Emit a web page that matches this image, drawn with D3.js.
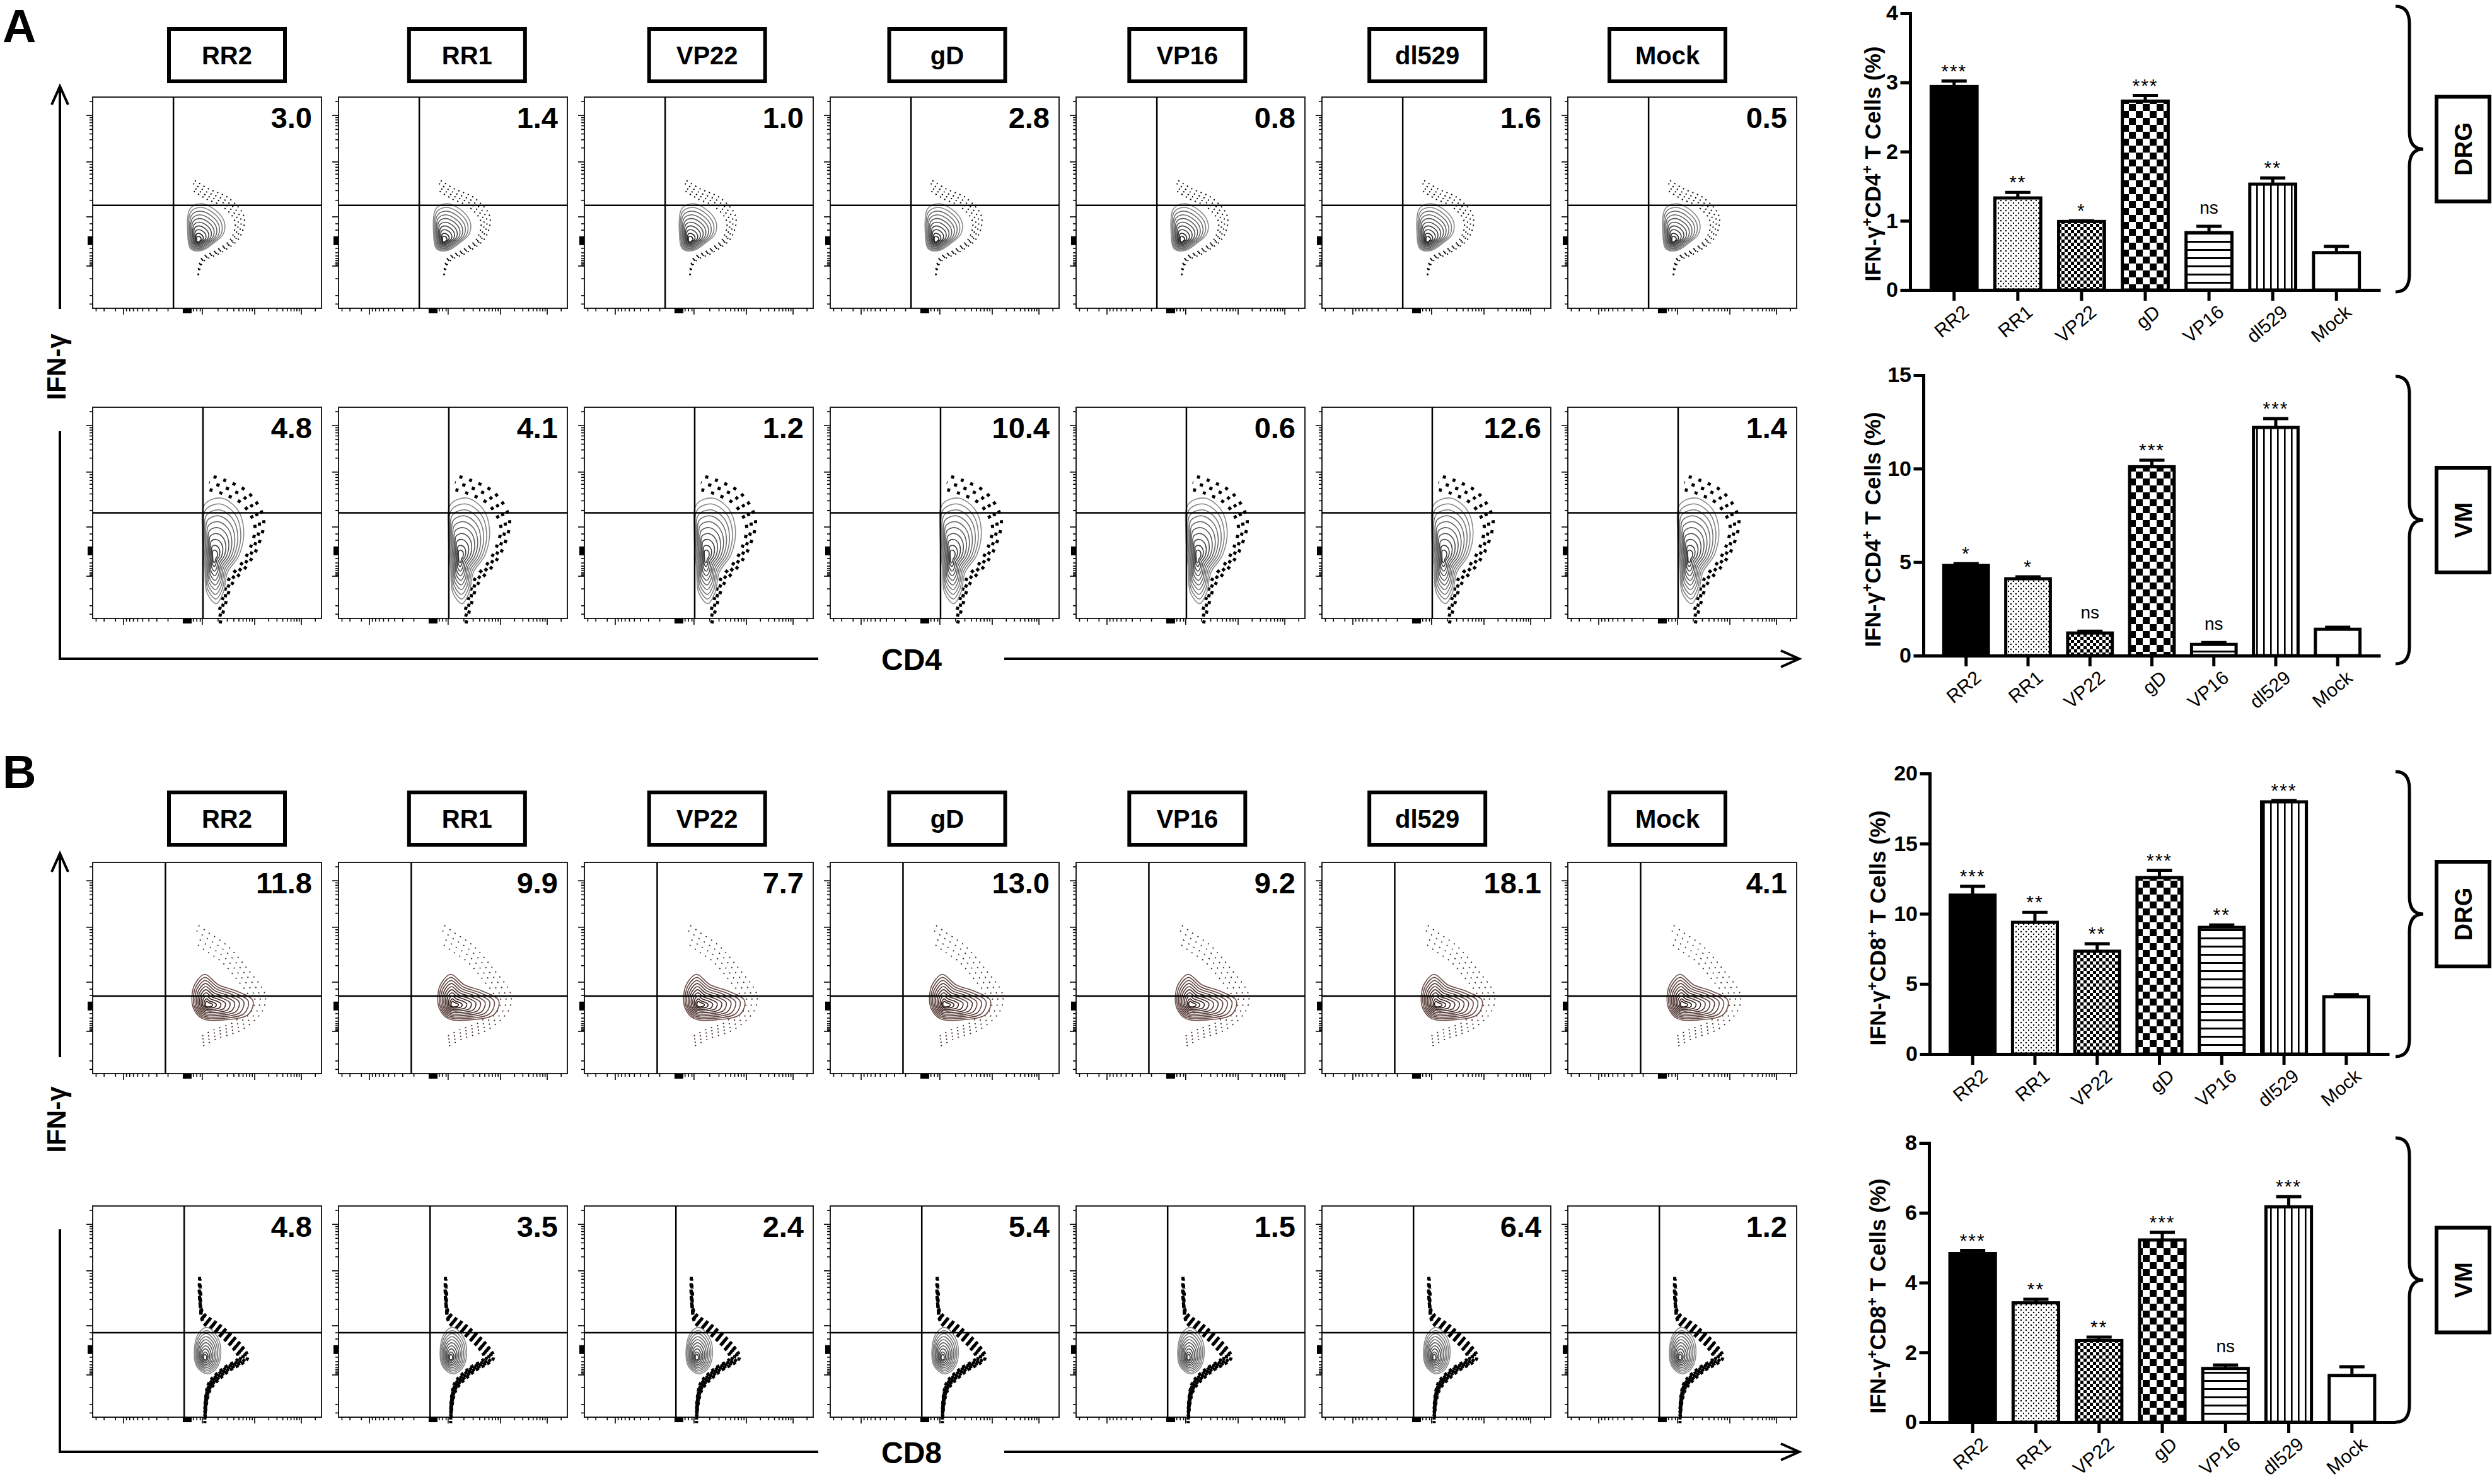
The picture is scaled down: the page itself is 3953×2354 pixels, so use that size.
<!DOCTYPE html>
<meta charset="utf-8">
<style>
	body { margin: 0; background: #fff; }
	svg { display: block; font-family: "Liberation Sans", Arial, sans-serif; }
	.frame { fill: #fff; stroke: #222; stroke-width: 2; }
	.gate { stroke: #000; stroke-width: 2.5; }
	.ftick { stroke: #000; stroke-width: 1.6; }
	.pct { font-size: 47px; font-weight: bold; text-anchor: end; }
	.bigaxis { fill: none; stroke: #000; stroke-width: 4; }
</style>
<svg width="3953" height="2354"></svg>
<script src="https://cdn.jsdelivr.net/npm/d3@7"></script>
<script>

var groups = ["RR2", "RR1", "VP22", "gD", "VP16", "dl529", "Mock"];

// percentages printed in the upper right quadrant of each flow plot
var cd4DrgPct = ["3.0", "1.4", "1.0", "2.8", "0.8", "1.6", "0.5"];
var cd4VmPct  = ["4.8", "4.1", "1.2", "10.4", "0.6", "12.6", "1.4"];
var cd8DrgPct = ["11.8", "9.9", "7.7", "13.0", "9.2", "18.1", "4.1"];
var cd8VmPct  = ["4.8", "3.5", "2.4", "5.4", "1.5", "6.4", "1.2"];

// bar charts: mean, SEM, significance
var cd4DrgMean = [2.94, 1.33, 0.99, 2.73, 0.83, 1.53, 0.54];
var cd4DrgErr  = [0.08, 0.08, 0.01, 0.08, 0.09, 0.09, 0.09];
var cd4DrgSig  = ["***", "**", "*", "***", "ns", "**", ""];
var cd4DrgTicks = [0, 1, 2, 3, 4];

var cd4VmMean = [4.82, 4.11, 1.21, 10.1, 0.6, 12.2, 1.41];
var cd4VmErr  = [0.1, 0.1, 0.1, 0.35, 0.1, 0.47, 0.11];
var cd4VmSig  = ["*", "*", "ns", "***", "ns", "***", ""];
var cd4VmTicks = [0, 5, 10, 15];

var cd8DrgMean = [11.33, 9.39, 7.33, 12.58, 9.03, 17.98, 4.09];
var cd8DrgErr  = [0.62, 0.71, 0.54, 0.52, 0.17, 0.1, 0.15];
var cd8DrgSig  = ["***", "**", "**", "***", "**", "***", ""];
var cd8DrgTicks = [0, 5, 10, 15, 20];

var cd8VmMean = [4.83, 3.42, 2.34, 5.22, 1.54, 6.17, 1.34];
var cd8VmErr  = [0.09, 0.1, 0.1, 0.22, 0.1, 0.29, 0.25];
var cd8VmSig  = ["***", "**", "**", "***", "ns", "***", ""];
var cd8VmTicks = [0, 2, 4, 6, 8];

// flow plot population outlines (fraction of plot)
var cd4DrgOutline = [[0.425,0.53],[0.47,0.505],[0.53,0.53],[0.575,0.59],[0.57,0.65],[0.53,0.69],[0.48,0.725],[0.43,0.72],[0.415,0.64]];
var cd4DrgCore = [0.46, 0.68];
var cd4DrgDots = [[0.44,0.42],[0.50,0.46],[0.58,0.50],[0.64,0.58],[0.62,0.67],[0.55,0.73],[0.48,0.77],[0.46,0.84]];

var cd4VmOutline = [[0.49,0.46],[0.56,0.43],[0.63,0.48],[0.66,0.58],[0.64,0.70],[0.59,0.78],[0.57,0.88],[0.54,0.93],[0.50,0.88],[0.49,0.76],[0.48,0.60]];
var cd4VmCore = [0.53, 0.71];
var cd4VmDots = [[0.51,0.37],[0.57,0.39],[0.66,0.44],[0.72,0.55],[0.70,0.66],[0.66,0.74],[0.60,0.82],[0.57,0.92],[0.55,1.0]];

var cd8DrgOutline = [[0.45,0.57],[0.49,0.53],[0.55,0.58],[0.63,0.61],[0.70,0.655],[0.68,0.72],[0.58,0.745],[0.48,0.74],[0.44,0.69],[0.435,0.62]];
var cd8DrgCore = [0.50, 0.675];
var cd8DrgDots = [[0.45,0.32],[0.50,0.36],[0.58,0.42],[0.66,0.52],[0.73,0.63],[0.72,0.70],[0.64,0.78],[0.54,0.82],[0.47,0.86]];

var cd8VmOutline = [[0.465,0.60],[0.50,0.575],[0.545,0.62],[0.56,0.70],[0.54,0.77],[0.50,0.795],[0.455,0.76],[0.445,0.67]];
var cd8VmCore = [0.49, 0.72];
var cd8VmDots = [[0.47,0.36],[0.48,0.52],[0.55,0.58],[0.63,0.66],[0.66,0.72],[0.58,0.78],[0.51,0.86],[0.49,1.0]];

// flow axis tick marks (fraction of plot)
var flowYMajor = [0.087, 0.307, 0.567, 0.80];
var flowXMajor = [0.135, 0.479, 0.708, 0.912];
var flowYZero = 0.68, flowXZero = 0.413;

var contourLevels = [1, 0.9, 0.8, 0.7, 0.6, 0.5, 0.4, 0.3, 0.2, 0.12];

var svg = d3.select("svg");
var defs = svg.append("defs");

function pattern(id, w, h) {
	var p = defs.append("pattern").attr("id", id)
		.attr("patternUnits", "userSpaceOnUse").attr("width", w).attr("height", h);
	p.append("rect").attr("width", w).attr("height", h).attr("fill", "#fff");
	return p;
}
var p = pattern("dots", 8, 8);
p.append("circle").attr("cx", 2).attr("cy", 2).attr("r", 1.2);
p.append("circle").attr("cx", 6).attr("cy", 6).attr("r", 1.2);
p = pattern("fineCheck", 10, 10);
p.append("rect").attr("width", 5).attr("height", 5);
p.append("rect").attr("x", 5).attr("y", 5).attr("width", 5).attr("height", 5);
p = pattern("bigCheck", 22, 22);
p.append("rect").attr("width", 11).attr("height", 11);
p.append("rect").attr("x", 11).attr("y", 11).attr("width", 11).attr("height", 11);
p = pattern("hLines", 14, 13);
p.append("rect").attr("y", 5).attr("width", 14).attr("height", 3);
p = pattern("vLines", 11, 14);
p.append("rect").attr("x", 4).attr("width", 2.6).attr("height", 14);

var barFills = ["#000", "url(#dots)", "url(#fineCheck)", "url(#bigCheck)", "url(#hLines)", "url(#vLines)", "#fff"];

// ---------- flow plots ----------
var plotW = 363, plotH = 335;
var plotX = d3.scalePoint().domain(groups).range([147, 147 + 6 * 390]);
var boxX = d3.scalePoint().domain(groups).range([360, 2645]);

function log10(k) { return Math.log(k) / Math.LN10; }
var ks = [2, 3, 4, 5, 6, 7, 8, 9];
var flowYMinor = [0.021, 0.60, 0.63, 0.86, 0.94, 0.98]
	.concat(ks.map(function(k) { return 0.307 - 0.22 * log10(k); }))
	.concat(ks.map(function(k) { return 0.567 - 0.26 * log10(k); }))
	.concat(ks.map(function(k) { return 0.68 + 0.12 * log10(k); }));
var flowXMinor = [0.015, 0.05, 0.1, 0.43, 0.44, 0.455, 0.47, 0.973]
	.concat(ks.map(function(k) { return 0.135 + 0.278 * (1 - log10(k)); }))
	.concat(ks.map(function(k) { return 0.479 + 0.229 * log10(k); }))
	.concat(ks.map(function(k) { return 0.708 + 0.204 * log10(k); }));

function scaled(pts, core, s) {
	return pts.map(function(p) { return [core[0] + (p[0] - core[0]) * s, core[1] + (p[1] - core[1]) * s]; });
}

function flowRow(top, pcts, outline, core, dots, gx, gy, st) {
	groups.forEach(function(name, i) {
		var left = plotX(name);
		var sx = d3.scaleLinear().domain([0, 1]).range([left, left + plotW]);
		var sy = d3.scaleLinear().domain([0, 1]).range([top, top + plotH]);
		var g = svg.append("g");

		g.append("rect").attr("class", "frame")
			.attr("x", sx(0)).attr("y", sy(0)).attr("width", plotW).attr("height", plotH);

		// y ticks
		g.selectAll(".ym").data(flowYMajor).enter().append("line").attr("class", "ftick")
			.attr("x1", sx(0) - 10).attr("x2", sx(0)).attr("y1", sy).attr("y2", sy);
		g.selectAll(".yn").data(flowYMinor).enter().append("line").attr("class", "ftick")
			.attr("x1", sx(0) - 5).attr("x2", sx(0)).attr("y1", sy).attr("y2", sy);
		g.append("rect").attr("x", sx(0) - 8).attr("y", sy(flowYZero) - 7).attr("width", 8).attr("height", 14);
		// x ticks
		g.selectAll(".xm").data(flowXMajor).enter().append("line").attr("class", "ftick")
			.attr("y1", sy(1)).attr("y2", sy(1) + 10).attr("x1", sx).attr("x2", sx);
		g.selectAll(".xn").data(flowXMinor).enter().append("line").attr("class", "ftick")
			.attr("y1", sy(1)).attr("y2", sy(1) + 5).attr("x1", sx).attr("x2", sx);
		g.append("rect").attr("x", sx(flowXZero) - 7).attr("y", sy(1)).attr("width", 14).attr("height", 8);

		// outlier events
		var open = d3.line().x(function(d) { return sx(d[0]); }).y(function(d) { return sy(d[1]); })
			.curve(d3.curveCatmullRom);
		st.rings.forEach(function(s, j) {
			g.append("path").attr("d", open(scaled(dots, core, s)))
				.attr("fill", "none").attr("stroke", st.dot).attr("stroke-width", st.dotW)
				.attr("stroke-dasharray", st.dash).attr("stroke-dashoffset", j * 4);
		});

		// contours
		var closed = d3.line().x(function(d) { return sx(d[0]); }).y(function(d) { return sy(d[1]); })
			.curve(d3.curveCatmullRomClosed);
		var col = d3.interpolateRgb(st.line, st.core);
		contourLevels.forEach(function(s, j) {
			g.append("path").attr("d", closed(scaled(outline, core, s)))
				.attr("fill", j === 0 ? "#fff" : "none")
				.attr("stroke", col(j / (contourLevels.length - 1)))
				.attr("stroke-width", 1.6);
		});

		// quadrant gates
		g.append("line").attr("class", "gate")
			.attr("x1", sx(gx)).attr("x2", sx(gx)).attr("y1", sy(0)).attr("y2", sy(1));
		g.append("line").attr("class", "gate")
			.attr("x1", sx(0)).attr("x2", sx(1)).attr("y1", sy(gy)).attr("y2", sy(gy));

		g.append("text").attr("class", "pct")
			.attr("x", sx(1) - 15).attr("y", sy(0) + 49).text(pcts[i]);
	});
}

var rowStyles = [
	{line: "#8a8a8a", core: "#1a1a1a", dot: "#000", dotW: 2, dash: "2 6", rings: [0.9, 0.97, 1.04, 1.12]},
	{line: "#8a8a8a", core: "#333", dot: "#000", dotW: 5, dash: "5 11", rings: [0.94, 1.04, 1.14]},
	{line: "#6e504a", core: "#2a1512", dot: "#3a2420", dotW: 1.8, dash: "2 8", rings: [0.8, 0.9, 1.0, 1.1]},
	{line: "#8a8a8a", core: "#333", dot: "#000", dotW: 5, dash: "5 5", rings: [0.86, 0.92, 0.98, 1.04, 1.1]}
];

function flowPanel(c) {
	svg.append("text").attr("x", 4).attr("y", c.letterY)
		.attr("font-size", 74).attr("font-weight", "bold").text(c.letter);

	var boxes = svg.append("g").selectAll("g").data(groups).enter().append("g");
	boxes.append("rect")
		.attr("x", function(d) { return boxX(d) - 92; }).attr("y", c.boxTop)
		.attr("width", 184).attr("height", 83)
		.attr("fill", "#fff").attr("stroke", "#000").attr("stroke-width", 6);
	boxes.append("text")
		.attr("x", function(d) { return boxX(d); }).attr("y", c.boxTop + 56)
		.attr("text-anchor", "middle").attr("font-size", 40).attr("font-weight", "bold")
		.text(function(d) { return d; });

	// IFN-γ axis
	svg.append("path").attr("class", "bigaxis").attr("stroke-width", 3)
		.attr("d", "M95," + c.arrowBottom + "V" + c.arrowTop +
			"M82," + (c.arrowTop + 29) + "L95," + c.arrowTop + "L108," + (c.arrowTop + 29));
	svg.append("text").attr("transform", "translate(104," + c.ifnY + ") rotate(-90)")
		.attr("text-anchor", "middle").attr("font-size", 42).attr("font-weight", "bold").text("IFN-γ");
	svg.append("path").attr("class", "bigaxis")
		.attr("d", "M95," + c.vStart + "V" + c.hLineY + "H1298M1593," + c.hLineY + "H2854" +
			"M2825," + (c.hLineY - 13) + "L2854," + c.hLineY + "L2825," + (c.hLineY + 13));
	svg.append("text").attr("x", 1446).attr("y", c.hLineY + 18)
		.attr("text-anchor", "middle").attr("font-size", 48).attr("font-weight", "bold").text(c.marker);
}

flowPanel({letter: "A", letterY: 67, boxTop: 46, arrowTop: 137, arrowBottom: 490, ifnY: 582,
	vStart: 684, hLineY: 1045, marker: "CD4"});
flowRow(154, cd4DrgPct, cd4DrgOutline, cd4DrgCore, cd4DrgDots, 0.353, 0.513, rowStyles[0]);
flowRow(646, cd4VmPct, cd4VmOutline, cd4VmCore, cd4VmDots, 0.482, 0.50, rowStyles[1]);

flowPanel({letter: "B", letterY: 1250, boxTop: 1257, arrowTop: 1354, arrowBottom: 1677, ifnY: 1776,
	vStart: 1950, hLineY: 2303, marker: "CD8"});
flowRow(1368, cd8DrgPct, cd8DrgOutline, cd8DrgCore, cd8DrgDots, 0.318, 0.633, rowStyles[2]);
flowRow(1913, cd8VmPct, cd8VmOutline, cd8VmCore, cd8VmDots, 0.40, 0.60, rowStyles[3]);

// ---------- bar charts ----------
function barChart(c) {
	var x = d3.scaleBand().domain(groups).range([c.x0, c.right]).paddingInner(0.28).paddingOuter(0.33);
	var y = d3.scaleLinear().domain([0, c.ticks[c.ticks.length - 1]]).range([c.y0, c.yTop]);
	var g = svg.append("g");

	g.selectAll(".bar").data(c.mean).enter().append("rect")
		.attr("x", function(d, i) { return x(groups[i]); })
		.attr("width", x.bandwidth())
		.attr("y", function(d) { return y(d); })
		.attr("height", function(d) { return c.y0 - y(d); })
		.attr("fill", function(d, i) { return barFills[i]; })
		.attr("stroke", "#000").attr("stroke-width", 5);

	var cx = function(i) { return x(groups[i]) + x.bandwidth() / 2; };
	c.mean.forEach(function(m, i) {
		var top = y(m + c.err[i]);
		g.append("line").attr("x1", cx(i)).attr("x2", cx(i)).attr("y1", y(m)).attr("y2", top)
			.attr("stroke", "#000").attr("stroke-width", 5);
		g.append("line").attr("x1", cx(i) - 20).attr("x2", cx(i) + 20).attr("y1", top).attr("y2", top)
			.attr("stroke", "#000").attr("stroke-width", 5);
		if (c.sig[i]) {
			var ns = c.sig[i] === "ns";
			g.append("text").attr("x", cx(i)).attr("y", top - (ns ? 20 : 6))
				.attr("text-anchor", "middle").attr("font-size", ns ? 28 : 30)
				.attr("letter-spacing", ns ? 0 : 2).text(c.sig[i]);
		}
	});

	var ya = g.append("g").attr("transform", "translate(" + c.x0 + ",0)")
		.call(d3.axisLeft(y).tickValues(c.ticks).tickFormat(d3.format("d"))
			.tickSize(13).tickSizeOuter(0).tickPadding(6));
	ya.attr("font-size", 34).attr("font-weight", "bold").attr("font-family", null);
	ya.selectAll("path, line").attr("stroke-width", 5).attr("stroke-linecap", "square");

	var xa = g.append("g").attr("transform", "translate(0," + c.y0 + ")")
		.call(d3.axisBottom(x).tickSize(17).tickSizeOuter(0));
	xa.attr("font-size", 30).attr("font-family", null);
	xa.selectAll("path, line").attr("stroke-width", 5);
	xa.selectAll("text").attr("text-anchor", "end").attr("x", 0).attr("y", 0).attr("dy", "0.71em")
		.attr("transform", "translate(12,22) rotate(-40)");

	var lab = g.append("text")
		.attr("transform", "translate(" + c.labelX + "," + (c.y0 - 200) + ") rotate(-90)")
		.attr("text-anchor", "middle").attr("font-size", 35).attr("font-weight", "bold");
	lab.append("tspan").text("IFN-γ");
	lab.append("tspan").attr("baseline-shift", "super").attr("font-size", 23).text("+");
	lab.append("tspan").text(c.marker);
	lab.append("tspan").attr("baseline-shift", "super").attr("font-size", 23).text("+");
	lab.append("tspan").text(" T Cells (%)");

	// curly brace and tissue box
	var x0 = 3800, x1 = 3822, x2 = 3844, r = 28, t = c.braceTop, b = c.braceBot, m = (t + b) / 2;
	g.append("path").attr("fill", "none").attr("stroke", "#000").attr("stroke-width", 5)
		.attr("d", "M" + x0 + "," + t + "Q" + x1 + "," + t + " " + x1 + "," + (t + r) +
			"V" + (m - r) + "Q" + x1 + "," + m + " " + x2 + "," + m +
			"Q" + x1 + "," + m + " " + x1 + "," + (m + r) +
			"V" + (b - r) + "Q" + x1 + "," + b + " " + x0 + "," + b);
	g.append("rect").attr("x", 3865).attr("y", m - 83).attr("width", 84).attr("height", 166)
		.attr("fill", "#fff").attr("stroke", "#000").attr("stroke-width", 6);
	g.append("text").attr("transform", "translate(3907," + m + ") rotate(-90)")
		.attr("text-anchor", "middle").attr("dy", "0.36em")
		.attr("font-size", 38).attr("font-weight", "bold").text(c.tissue);
}

barChart({x0: 3030, right: 3776, y0: 460, yTop: 21, ticks: cd4DrgTicks, mean: cd4DrgMean, err: cd4DrgErr,
	sig: cd4DrgSig, marker: "CD4", labelX: 2983, tissue: "DRG", braceTop: 10, braceBot: 463});
barChart({x0: 3051, right: 3776, y0: 1040, yTop: 595, ticks: cd4VmTicks, mean: cd4VmMean, err: cd4VmErr,
	sig: cd4VmSig, marker: "CD4", labelX: 2983, tissue: "VM", braceTop: 597, braceBot: 1053});
barChart({x0: 3061, right: 3790, y0: 1672, yTop: 1227, ticks: cd8DrgTicks, mean: cd8DrgMean, err: cd8DrgErr,
	sig: cd8DrgSig, marker: "CD8", labelX: 2991, tissue: "DRG", braceTop: 1224, braceBot: 1676});
barChart({x0: 3060, right: 3800, y0: 2256, yTop: 1813, ticks: cd8VmTicks, mean: cd8VmMean, err: cd8VmErr,
	sig: cd8VmSig, marker: "CD8", labelX: 2991, tissue: "VM", braceTop: 1805, braceBot: 2256});

</script>
